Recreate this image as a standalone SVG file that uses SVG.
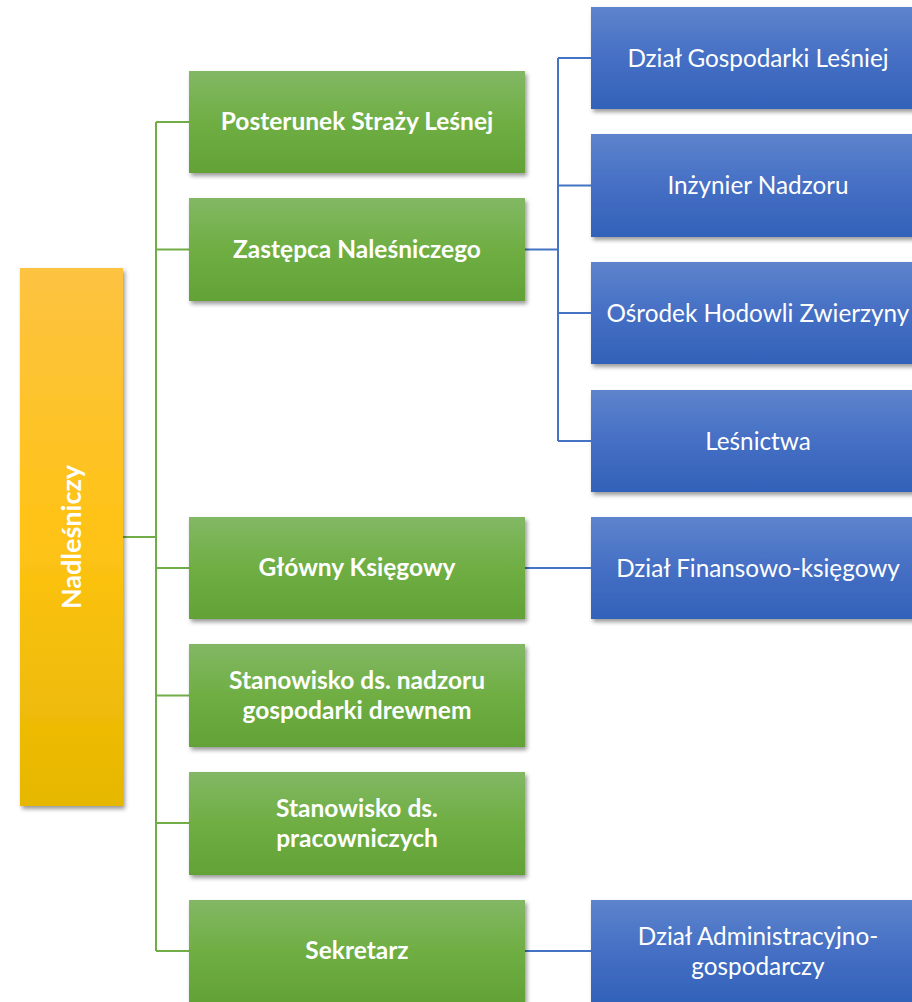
<svg xmlns="http://www.w3.org/2000/svg" width="912" height="1002" viewBox="0 0 912 1002">
<defs>
<linearGradient id="gGreen" x1="0" y1="0" x2="0" y2="1"><stop offset="0" stop-color="#82b864"/><stop offset="0.5" stop-color="#6fae43"/><stop offset="1" stop-color="#62a236"/></linearGradient>
<linearGradient id="gBlue" x1="0" y1="0" x2="0" y2="1"><stop offset="0" stop-color="#5d84cc"/><stop offset="0.5" stop-color="#456fc4"/><stop offset="1" stop-color="#3262b9"/></linearGradient>
<linearGradient id="gGold" x1="0" y1="0" x2="0" y2="1"><stop offset="0" stop-color="#fdc342"/><stop offset="0.5" stop-color="#fec314"/><stop offset="1" stop-color="#e6b700"/></linearGradient>
<filter id="sh" x="-10%" y="-10%" width="130%" height="130%"><feDropShadow dx="2" dy="3" stdDeviation="2" flood-color="#000" flood-opacity="0.4"/></filter>
</defs>
<style>
.g{fill:url(#gGreen);filter:url(#sh)}
.b{fill:url(#gBlue);filter:url(#sh)}
.y{fill:url(#gGold);filter:url(#sh)}
.tg{font-family:Lato,"Open Sans",sans-serif;font-weight:bold;font-size:24.5px;fill:#fff;text-anchor:middle}
.tn{font-size:27px}
.tb{font-family:Lato,"Open Sans",sans-serif;font-size:24.3px;fill:#fff;text-anchor:middle}
.cg{stroke:#70ad47;stroke-width:2;fill:none}
.cb{stroke:#4472c4;stroke-width:2;fill:none}
</style>
<g id="connectors">
<path class="cg" d="M123 537H156M156 122V951M156 122H189M156 249.5H189M156 568H189M156 695.5H189M156 823H189M156 951H189"/>
<path class="cb" d="M525 249.5H558M558 58V441M558 58H591M558 185.5H591M558 313H591M558 441H591M525 568H591M525 951H591"/>
</g>
<g id="n-nadlesniczy"><rect class="y" x="20" y="268" width="103" height="538"/><text class="tg tn" transform="translate(81 537) rotate(-90)">Nadleśniczy</text></g>
<g id="n-posterunek"><rect class="g" x="189" y="71" width="336" height="102"/><text class="tg" x="357" y="130">Posterunek Straży Leśnej</text></g>
<g id="n-zastepca"><rect class="g" x="189" y="198" width="336" height="103"/><text class="tg" x="357" y="257.5">Zastępca Naleśniczego</text></g>
<g id="n-glowny"><rect class="g" x="189" y="517" width="336" height="102"/><text class="tg" x="357" y="576">Główny Księgowy</text></g>
<g id="n-drewno"><rect class="g" x="189" y="644" width="336" height="103"/><text class="tg" x="357" y="689">Stanowisko ds. nadzoru</text><text class="tg" x="357" y="719">gospodarki drewnem</text></g>
<g id="n-pracownicze"><rect class="g" x="189" y="772" width="336" height="103"/><text class="tg" x="357" y="816.5">Stanowisko ds.</text><text class="tg" x="357" y="846.5">pracowniczych</text></g>
<g id="n-sekretarz"><rect class="g" x="189" y="900" width="336" height="102"/><text class="tg" x="357" y="959">Sekretarz</text></g>
<g id="n-dzial-gl"><rect class="b" x="591" y="7" width="334" height="102"/><text class="tb" x="758" y="67">Dział Gospodarki Leśniej</text></g>
<g id="n-inzynier"><rect class="b" x="591" y="134" width="334" height="103"/><text class="tb" x="758" y="194">Inżynier Nadzoru</text></g>
<g id="n-osrodek"><rect class="b" x="591" y="262" width="334" height="102"/><text class="tb" x="758" y="322">Ośrodek Hodowli Zwierzyny</text></g>
<g id="n-lesnictwa"><rect class="b" x="591" y="390" width="334" height="102"/><text class="tb" x="758" y="450">Leśnictwa</text></g>
<g id="n-finanse"><rect class="b" x="591" y="517" width="334" height="102"/><text class="tb" x="758" y="577">Dział Finansowo-księgowy</text></g>
<g id="n-admin"><rect class="b" x="591" y="900" width="334" height="102"/><text class="tb" x="758" y="945">Dział Administracyjno-</text><text class="tb" x="758" y="975">gospodarczy</text></g>
</svg>
